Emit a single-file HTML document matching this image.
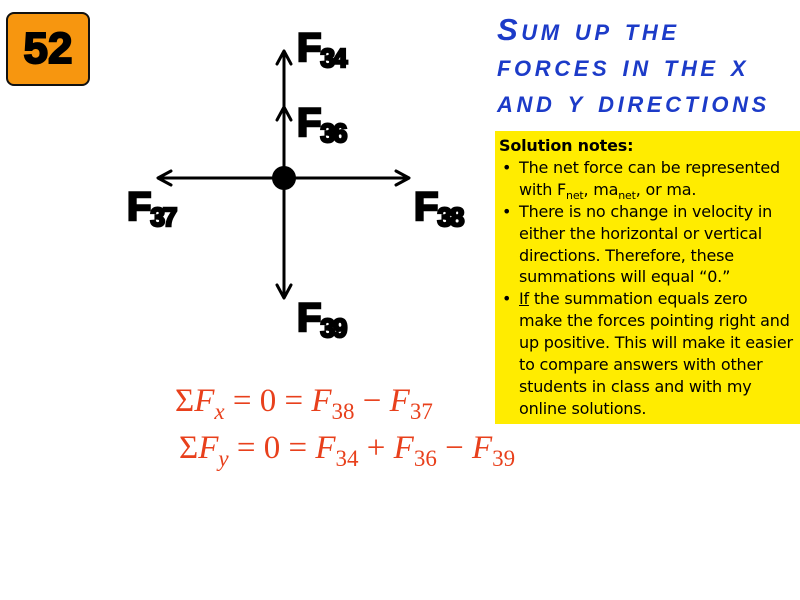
<!DOCTYPE html>
<html><head><meta charset="utf-8"><style>
body{margin:0;width:800px;height:600px;background:#fff;position:relative;overflow:hidden;font-family:"Liberation Sans",sans-serif}
.abs{position:absolute}
.badge{left:6px;top:12px;width:80px;height:70px;background:#f7960f;border:2px solid #111;border-radius:8px;font:900 44px "Liberation Sans",sans-serif;text-align:center;line-height:70px;color:#000;-webkit-text-stroke:2px #000}
.title{left:497px;top:12px;width:303px;font:italic bold 31px "Liberation Sans",sans-serif;font-variant:small-caps;color:#1c3bc8;line-height:36px;letter-spacing:3.6px;white-space:nowrap}
.notes{left:495px;top:131px;width:305px;height:293px;background:#ffec00;font:16px "DejaVu Sans",sans-serif;line-height:21.9px;color:#000;box-sizing:border-box;padding:4px 0 0 4px;white-space:nowrap;letter-spacing:-0.2px}
.notes .li{position:relative;padding-left:20px}
.notes .li:before{content:"•";position:absolute;left:3px}
.notes sub{font-size:11px;line-height:0}
.lbl{font:900 40px "Liberation Sans",sans-serif;-webkit-text-stroke:2.5px #000;line-height:40px;white-space:nowrap;letter-spacing:-1px}
.lbl sub{font-size:26px;vertical-align:-6px;letter-spacing:-2px}
.eq{font:italic 33px "Liberation Serif",serif;color:#e8401c;white-space:nowrap}
.eq sub{font-size:23px;vertical-align:-8px;font-style:normal}
.eq sub.i{font-style:italic}
.eq .n{font-style:normal}
</style></head><body>
<div class="abs badge">52</div>
<div class="abs title">Sum up the<br>forces in the x<br>and y directions</div>
<div class="abs notes"><b>Solution notes:</b>
<div class="li">The net force can be represented<br>with F<sub>net</sub>, ma<sub>net</sub>, or ma.</div>
<div class="li">There is no change in velocity in<br>either the horizontal or vertical<br>directions. Therefore, these<br>summations will equal “0.”</div>
<div class="li"><u>If</u> the summation equals zero<br>make the forces pointing right and<br>up positive. This will make it easier<br>to compare answers with other<br>students in class and with my<br>online solutions.</div>
</div>
<svg class="abs" style="left:0;top:0" width="800" height="600">
<g stroke="#000" stroke-width="3" fill="none" stroke-linecap="round" stroke-linejoin="round">
<line x1="284" y1="52" x2="284" y2="297"/>
<line x1="159" y1="178" x2="408" y2="178"/>
<polyline points="277,64 284,51 291,64"/>
<polyline points="277,120 284,107 291,120"/>
<polyline points="277,285 284,298 291,285"/>
<polyline points="171,171 158,178 171,185"/>
<polyline points="396,171 409,178 396,185"/>
</g>
<circle cx="284" cy="178" r="12" fill="#000"/>
</svg>
<div class="abs lbl" style="left:297px;top:28px">F<sub>34</sub></div>
<div class="abs lbl" style="left:297px;top:103px">F<sub>36</sub></div>
<div class="abs lbl" style="left:127px;top:187px">F<sub>37</sub></div>
<div class="abs lbl" style="left:414px;top:187px">F<sub>38</sub></div>
<div class="abs lbl" style="left:297px;top:298px">F<sub>39</sub></div>
<div class="abs eq" style="left:175px;top:383px"><span class="n">Σ</span>F<sub class="i">x</sub> <span class="n">= 0 =</span> F<sub>38</sub> <span class="n">−</span> F<sub>37</sub></div>
<div class="abs eq" style="left:179px;top:430px"><span class="n">Σ</span>F<sub class="i">y</sub> <span class="n">= 0 =</span> F<sub>34</sub> <span class="n">+</span> F<sub>36</sub> <span class="n">−</span> F<sub>39</sub></div>
</body></html>
